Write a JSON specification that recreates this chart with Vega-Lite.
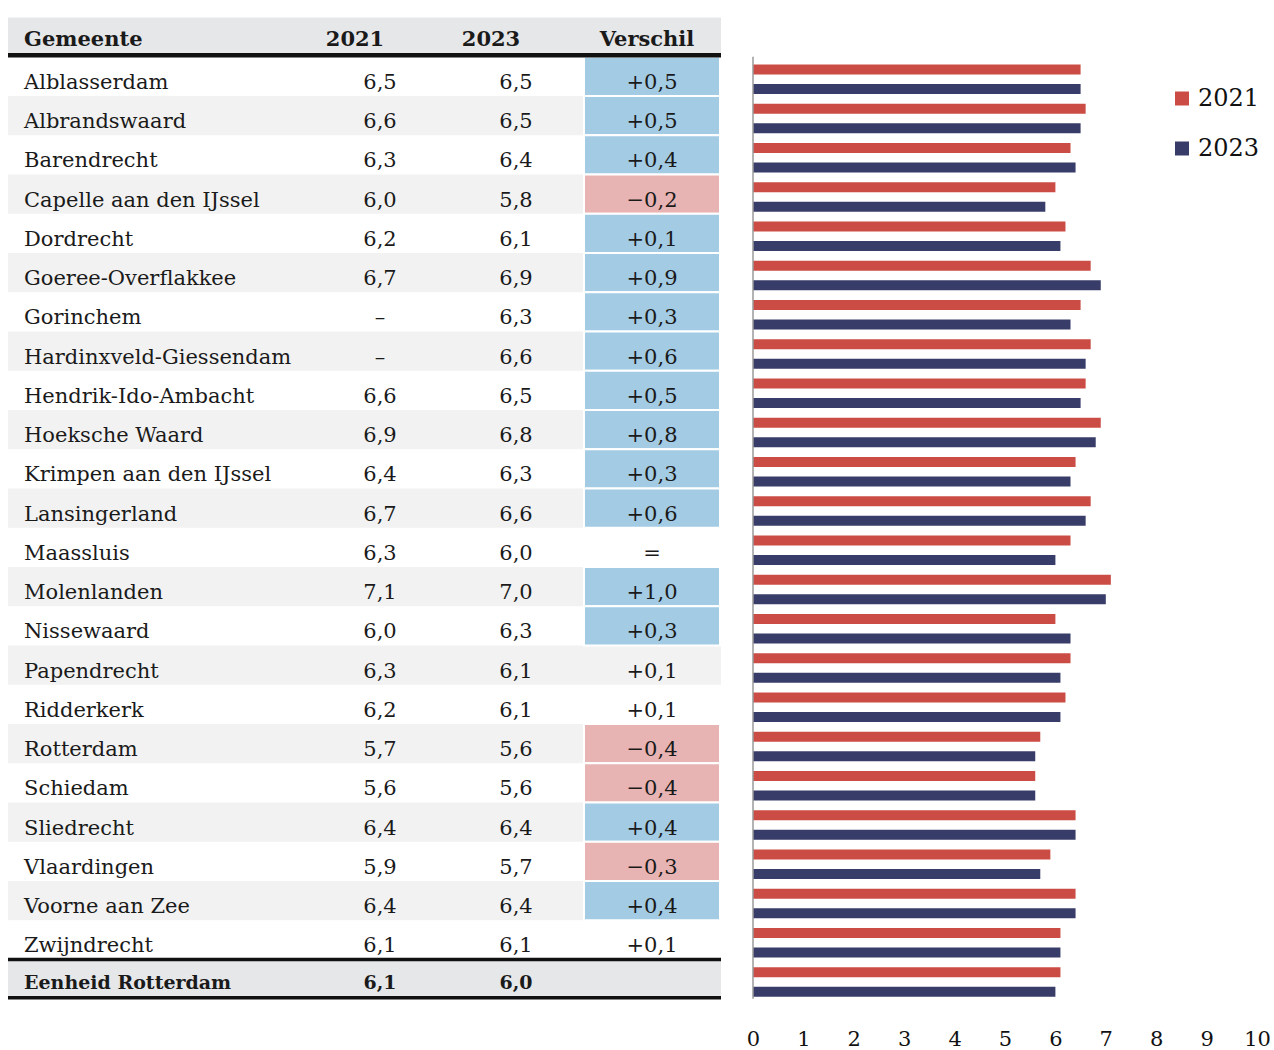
{
  "$schema": "https://vega.github.io/schema/vega-lite/v6.json",
  "padding": {"left": 5, "top": 17.5, "right": 0, "bottom": 0},
  "bounds": "flush",
  "spacing": 32,
  "config": {"view": {"stroke": null}, "font": "DejaVu Serif"},
  "resolve": {"scale": {"x": "independent", "y": "independent", "color": "independent"}},
  "datasets": {
    "tabel": [
      {"gemeente": "Alblasserdam", "2021": "6,5", "2023": "6,5", "Verschil": "+0,5", "sig": "plus"},
      {"gemeente": "Albrandswaard", "2021": "6,6", "2023": "6,5", "Verschil": "+0,5", "sig": "plus"},
      {"gemeente": "Barendrecht", "2021": "6,3", "2023": "6,4", "Verschil": "+0,4", "sig": "plus"},
      {"gemeente": "Capelle aan den IJssel", "2021": "6,0", "2023": "5,8", "Verschil": "−0,2", "sig": "min"},
      {"gemeente": "Dordrecht", "2021": "6,2", "2023": "6,1", "Verschil": "+0,1", "sig": "plus"},
      {"gemeente": "Goeree-Overflakkee", "2021": "6,7", "2023": "6,9", "Verschil": "+0,9", "sig": "plus"},
      {"gemeente": "Gorinchem", "2021": "–", "2023": "6,3", "Verschil": "+0,3", "sig": "plus"},
      {"gemeente": "Hardinxveld-Giessendam", "2021": "–", "2023": "6,6", "Verschil": "+0,6", "sig": "plus"},
      {"gemeente": "Hendrik-Ido-Ambacht", "2021": "6,6", "2023": "6,5", "Verschil": "+0,5", "sig": "plus"},
      {"gemeente": "Hoeksche Waard", "2021": "6,9", "2023": "6,8", "Verschil": "+0,8", "sig": "plus"},
      {"gemeente": "Krimpen aan den IJssel", "2021": "6,4", "2023": "6,3", "Verschil": "+0,3", "sig": "plus"},
      {"gemeente": "Lansingerland", "2021": "6,7", "2023": "6,6", "Verschil": "+0,6", "sig": "plus"},
      {"gemeente": "Maassluis", "2021": "6,3", "2023": "6,0", "Verschil": "=", "sig": "none"},
      {"gemeente": "Molenlanden", "2021": "7,1", "2023": "7,0", "Verschil": "+1,0", "sig": "plus"},
      {"gemeente": "Nissewaard", "2021": "6,0", "2023": "6,3", "Verschil": "+0,3", "sig": "plus"},
      {"gemeente": "Papendrecht", "2021": "6,3", "2023": "6,1", "Verschil": "+0,1", "sig": "none"},
      {"gemeente": "Ridderkerk", "2021": "6,2", "2023": "6,1", "Verschil": "+0,1", "sig": "none"},
      {"gemeente": "Rotterdam", "2021": "5,7", "2023": "5,6", "Verschil": "−0,4", "sig": "min"},
      {"gemeente": "Schiedam", "2021": "5,6", "2023": "5,6", "Verschil": "−0,4", "sig": "min"},
      {"gemeente": "Sliedrecht", "2021": "6,4", "2023": "6,4", "Verschil": "+0,4", "sig": "plus"},
      {"gemeente": "Vlaardingen", "2021": "5,9", "2023": "5,7", "Verschil": "−0,3", "sig": "min"},
      {"gemeente": "Voorne aan Zee", "2021": "6,4", "2023": "6,4", "Verschil": "+0,4", "sig": "plus"},
      {"gemeente": "Zwijndrecht", "2021": "6,1", "2023": "6,1", "Verschil": "+0,1", "sig": "none"},
      {"gemeente": "Eenheid Rotterdam", "2021": "6,1", "2023": "6,0", "Verschil": "", "sig": "none"}
    ],
    "scores": [
      {"gemeente": "Alblasserdam", "jaar": "2021", "score": 6.5},
      {"gemeente": "Alblasserdam", "jaar": "2023", "score": 6.5},
      {"gemeente": "Albrandswaard", "jaar": "2021", "score": 6.6},
      {"gemeente": "Albrandswaard", "jaar": "2023", "score": 6.5},
      {"gemeente": "Barendrecht", "jaar": "2021", "score": 6.3},
      {"gemeente": "Barendrecht", "jaar": "2023", "score": 6.4},
      {"gemeente": "Capelle aan den IJssel", "jaar": "2021", "score": 6.0},
      {"gemeente": "Capelle aan den IJssel", "jaar": "2023", "score": 5.8},
      {"gemeente": "Dordrecht", "jaar": "2021", "score": 6.2},
      {"gemeente": "Dordrecht", "jaar": "2023", "score": 6.1},
      {"gemeente": "Goeree-Overflakkee", "jaar": "2021", "score": 6.7},
      {"gemeente": "Goeree-Overflakkee", "jaar": "2023", "score": 6.9},
      {"gemeente": "Gorinchem", "jaar": "2021", "score": 6.5},
      {"gemeente": "Gorinchem", "jaar": "2023", "score": 6.3},
      {"gemeente": "Hardinxveld-Giessendam", "jaar": "2021", "score": 6.7},
      {"gemeente": "Hardinxveld-Giessendam", "jaar": "2023", "score": 6.6},
      {"gemeente": "Hendrik-Ido-Ambacht", "jaar": "2021", "score": 6.6},
      {"gemeente": "Hendrik-Ido-Ambacht", "jaar": "2023", "score": 6.5},
      {"gemeente": "Hoeksche Waard", "jaar": "2021", "score": 6.9},
      {"gemeente": "Hoeksche Waard", "jaar": "2023", "score": 6.8},
      {"gemeente": "Krimpen aan den IJssel", "jaar": "2021", "score": 6.4},
      {"gemeente": "Krimpen aan den IJssel", "jaar": "2023", "score": 6.3},
      {"gemeente": "Lansingerland", "jaar": "2021", "score": 6.7},
      {"gemeente": "Lansingerland", "jaar": "2023", "score": 6.6},
      {"gemeente": "Maassluis", "jaar": "2021", "score": 6.3},
      {"gemeente": "Maassluis", "jaar": "2023", "score": 6.0},
      {"gemeente": "Molenlanden", "jaar": "2021", "score": 7.1},
      {"gemeente": "Molenlanden", "jaar": "2023", "score": 7.0},
      {"gemeente": "Nissewaard", "jaar": "2021", "score": 6.0},
      {"gemeente": "Nissewaard", "jaar": "2023", "score": 6.3},
      {"gemeente": "Papendrecht", "jaar": "2021", "score": 6.3},
      {"gemeente": "Papendrecht", "jaar": "2023", "score": 6.1},
      {"gemeente": "Ridderkerk", "jaar": "2021", "score": 6.2},
      {"gemeente": "Ridderkerk", "jaar": "2023", "score": 6.1},
      {"gemeente": "Rotterdam", "jaar": "2021", "score": 5.7},
      {"gemeente": "Rotterdam", "jaar": "2023", "score": 5.6},
      {"gemeente": "Schiedam", "jaar": "2021", "score": 5.6},
      {"gemeente": "Schiedam", "jaar": "2023", "score": 5.6},
      {"gemeente": "Sliedrecht", "jaar": "2021", "score": 6.4},
      {"gemeente": "Sliedrecht", "jaar": "2023", "score": 6.4},
      {"gemeente": "Vlaardingen", "jaar": "2021", "score": 5.9},
      {"gemeente": "Vlaardingen", "jaar": "2023", "score": 5.7},
      {"gemeente": "Voorne aan Zee", "jaar": "2021", "score": 6.4},
      {"gemeente": "Voorne aan Zee", "jaar": "2023", "score": 6.4},
      {"gemeente": "Zwijndrecht", "jaar": "2021", "score": 6.1},
      {"gemeente": "Zwijndrecht", "jaar": "2023", "score": 6.1},
      {"gemeente": "Eenheid Rotterdam", "jaar": "2021", "score": 6.1},
      {"gemeente": "Eenheid Rotterdam", "jaar": "2023", "score": 6.0}
    ]
  },
  "hconcat": [
    {
      "width": 713,
      "height": 981.25,
      "data": {"name": "tabel"},
      "encoding": {
        "y": {
          "field": "gemeente", "type": "nominal", "axis": null,
          "scale": {"domain": ["header", "Alblasserdam", "Albrandswaard", "Barendrecht", "Capelle aan den IJssel", "Dordrecht", "Goeree-Overflakkee", "Gorinchem", "Hardinxveld-Giessendam", "Hendrik-Ido-Ambacht", "Hoeksche Waard", "Krimpen aan den IJssel", "Lansingerland", "Maassluis", "Molenlanden", "Nissewaard", "Papendrecht", "Ridderkerk", "Rotterdam", "Schiedam", "Sliedrecht", "Vlaardingen", "Voorne aan Zee", "Zwijndrecht", "Eenheid Rotterdam"], "paddingInner": 0, "paddingOuter": 0}
        }
      },
      "layer": [
        {
          "data": {"values": [{"gemeente": "header"}]},
          "mark": {"type": "rect", "fill": "#e6e7e9"},
          "encoding": {}
        },
        {
          "transform": [
            {"window": [{"op": "row_number", "as": "rij"}]},
            {"filter": "datum.rij % 2 == 0 && datum.gemeente != 'Eenheid Rotterdam'"}
          ],
          "mark": {"type": "rect", "fill": "#f2f2f2"},
          "encoding": {}
        },
        {
          "transform": [{"filter": "datum.gemeente == 'Eenheid Rotterdam'"}],
          "mark": {"type": "rect", "fill": "#e6e7e9"},
          "encoding": {}
        },
        {
          "transform": [{"filter": "datum.sig != 'none'"}],
          "mark": {"type": "rect", "stroke": "white", "strokeWidth": 2},
          "encoding": {
            "x": {"datum": "Verschil", "axis": null, "scale": {"type": "band", "domain": ["Gemeente", "ruimte", "2021", "2023", "Verschil"], "paddingInner": 0, "paddingOuter": 0.1213, "align": 0.9697}},
            "fill": {"field": "sig", "type": "nominal", "legend": null, "scale": {"domain": ["plus", "min"], "range": ["#a3cbe4", "#e8b4b3"]}}
          }
        },
        {
          "data": {"values": [{"gemeente": "header"}]},
          "mark": {"type": "rule", "color": "#111111", "strokeWidth": 4.5, "yOffset": -1.5},
          "encoding": {"y": {"field": "gemeente", "type": "nominal", "bandPosition": 1}}
        },
        {
          "transform": [{"filter": "datum.gemeente == 'Eenheid Rotterdam'"}],
          "mark": {"type": "rule", "color": "#111111", "strokeWidth": 3.5},
          "encoding": {"y": {"field": "gemeente", "type": "nominal", "bandPosition": 0}}
        },
        {
          "transform": [{"filter": "datum.gemeente == 'Eenheid Rotterdam'"}],
          "mark": {"type": "rule", "color": "#111111", "strokeWidth": 3.5, "yOffset": -1},
          "encoding": {"y": {"field": "gemeente", "type": "nominal", "bandPosition": 1}}
        },
        {
          "transform": [{"filter": "datum.gemeente != 'Eenheid Rotterdam'"}],
          "mark": {"type": "text", "align": "left", "baseline": "alphabetic", "dx": -16, "dy": 12.5, "fontSize": 21, "color": "#1a1a1a"},
          "encoding": {
            "x": {"datum": "Gemeente", "bandPosition": 0, "axis": null, "scale": {"type": "band", "domain": ["Gemeente", "ruimte", "2021", "2023", "Verschil"], "paddingInner": 0, "paddingOuter": 0.1213, "align": 0.9697}},
            "text": {"field": "gemeente"}
          }
        },
        {
          "transform": [
            {"filter": "datum.gemeente != 'Eenheid Rotterdam'"},
            {"fold": ["2021", "2023", "Verschil"], "as": ["kolom", "tekst"]}
          ],
          "mark": {"type": "text", "align": "center", "baseline": "alphabetic", "dy": 12.5, "fontSize": 21, "color": "#1a1a1a"},
          "encoding": {
            "x": {"field": "kolom", "type": "nominal", "axis": null, "scale": {"type": "band", "domain": ["Gemeente", "ruimte", "2021", "2023", "Verschil"], "paddingInner": 0, "paddingOuter": 0.1213, "align": 0.9697}},
            "text": {"field": "tekst"}
          }
        },
        {
          "transform": [{"filter": "datum.gemeente == 'Eenheid Rotterdam'"}],
          "mark": {"type": "text", "align": "left", "baseline": "alphabetic", "dx": -16, "dy": 10, "fontSize": 19, "fontWeight": "bold", "color": "#1a1a1a"},
          "encoding": {
            "x": {"datum": "Gemeente", "bandPosition": 0, "axis": null, "scale": {"type": "band", "domain": ["Gemeente", "ruimte", "2021", "2023", "Verschil"], "paddingInner": 0, "paddingOuter": 0.1213, "align": 0.9697}},
            "text": {"field": "gemeente"}
          }
        },
        {
          "transform": [
            {"filter": "datum.gemeente == 'Eenheid Rotterdam'"},
            {"fold": ["2021", "2023"], "as": ["kolom", "tekst"]}
          ],
          "mark": {"type": "text", "align": "center", "baseline": "alphabetic", "dy": 10, "fontSize": 19, "fontWeight": "bold", "color": "#1a1a1a"},
          "encoding": {
            "x": {"field": "kolom", "type": "nominal", "axis": null, "scale": {"type": "band", "domain": ["Gemeente", "ruimte", "2021", "2023", "Verschil"], "paddingInner": 0, "paddingOuter": 0.1213, "align": 0.9697}},
            "text": {"field": "tekst"}
          }
        },
        {
          "data": {"values": [{"gemeente": "header", "kolom": "Gemeente"}]},
          "mark": {"type": "text", "align": "left", "baseline": "alphabetic", "dx": -16, "dy": 9, "fontSize": 21, "fontWeight": "bold", "color": "#1a1a1a"},
          "encoding": {
            "x": {"field": "kolom", "type": "nominal", "bandPosition": 0, "axis": null, "scale": {"type": "band", "domain": ["Gemeente", "ruimte", "2021", "2023", "Verschil"], "paddingInner": 0, "paddingOuter": 0.1213, "align": 0.9697}},
            "text": {"field": "kolom"}
          }
        },
        {
          "data": {"values": [{"gemeente": "header", "kolom": "2021"}, {"gemeente": "header", "kolom": "2023"}]},
          "mark": {"type": "text", "align": "center", "baseline": "alphabetic", "dx": -25, "dy": 9, "fontSize": 21, "fontWeight": "bold", "color": "#1a1a1a"},
          "encoding": {
            "x": {"field": "kolom", "type": "nominal", "axis": null, "scale": {"type": "band", "domain": ["Gemeente", "ruimte", "2021", "2023", "Verschil"], "paddingInner": 0, "paddingOuter": 0.1213, "align": 0.9697}},
            "text": {"field": "kolom"}
          }
        },
        {
          "data": {"values": [{"gemeente": "header", "kolom": "Verschil"}]},
          "mark": {"type": "text", "align": "center", "baseline": "alphabetic", "dx": -5, "dy": 9, "fontSize": 21, "fontWeight": "bold", "color": "#1a1a1a"},
          "encoding": {
            "x": {"field": "kolom", "type": "nominal", "axis": null, "scale": {"type": "band", "domain": ["Gemeente", "ruimte", "2021", "2023", "Verschil"], "paddingInner": 0, "paddingOuter": 0.1213, "align": 0.9697}},
            "text": {"field": "kolom"}
          }
        }
      ]
    },
    {
      "width": 504,
      "height": 981.25,
      "encoding": {
        "y": {
          "field": "gemeente", "type": "nominal", "axis": null,
          "scale": {"domain": ["header", "Alblasserdam", "Albrandswaard", "Barendrecht", "Capelle aan den IJssel", "Dordrecht", "Goeree-Overflakkee", "Gorinchem", "Hardinxveld-Giessendam", "Hendrik-Ido-Ambacht", "Hoeksche Waard", "Krimpen aan den IJssel", "Lansingerland", "Maassluis", "Molenlanden", "Nissewaard", "Papendrecht", "Ridderkerk", "Rotterdam", "Schiedam", "Sliedrecht", "Vlaardingen", "Voorne aan Zee", "Zwijndrecht", "Eenheid Rotterdam"], "paddingInner": 0, "paddingOuter": 0}
        }
      },
      "layer": [
        {
          "data": {"name": "scores"},
          "mark": {"type": "bar"},
          "encoding": {
            "yOffset": {"field": "jaar", "type": "nominal", "scale": {"domain": ["2021", "2023"], "paddingInner": 0.4845, "paddingOuter": 0.2526, "align": 0.796}},
            "x": {
              "field": "score", "type": "quantitative",
              "scale": {"domain": [0, 10], "nice": false},
              "axis": {"values": [0, 1, 2, 3, 4, 5, 6, 7, 8, 9, 10], "format": "d", "domain": false, "ticks": false, "grid": false, "title": null, "labelFontSize": 21, "labelFont": "DejaVu Serif", "labelColor": "#111111", "labelPadding": 30, "labelFlush": false}
            },
            "color": {
              "field": "jaar", "type": "nominal",
              "scale": {"domain": ["2021", "2023"], "range": ["#cb4c45", "#383c68"]},
              "legend": {"orient": "none", "legendX": 417, "legendY": 69, "title": null, "symbolType": "square", "symbolSize": 196, "symbolStrokeWidth": 0, "labelFontSize": 24, "labelFont": "DejaVu Serif", "labelColor": "#111111", "rowPadding": 26, "labelOffset": 4}
            }
          }
        },
        {
          "data": {"values": [{}]},
          "mark": {"type": "rule", "color": "#9a9a9a", "strokeWidth": 1.5},
          "encoding": {
            "x": {"datum": 0, "type": "quantitative"},
            "y": {"datum": "Alblasserdam", "type": "nominal", "bandPosition": 0},
            "y2": {"datum": "Eenheid Rotterdam", "bandPosition": 1}
          }
        }
      ]
    }
  ]
}
